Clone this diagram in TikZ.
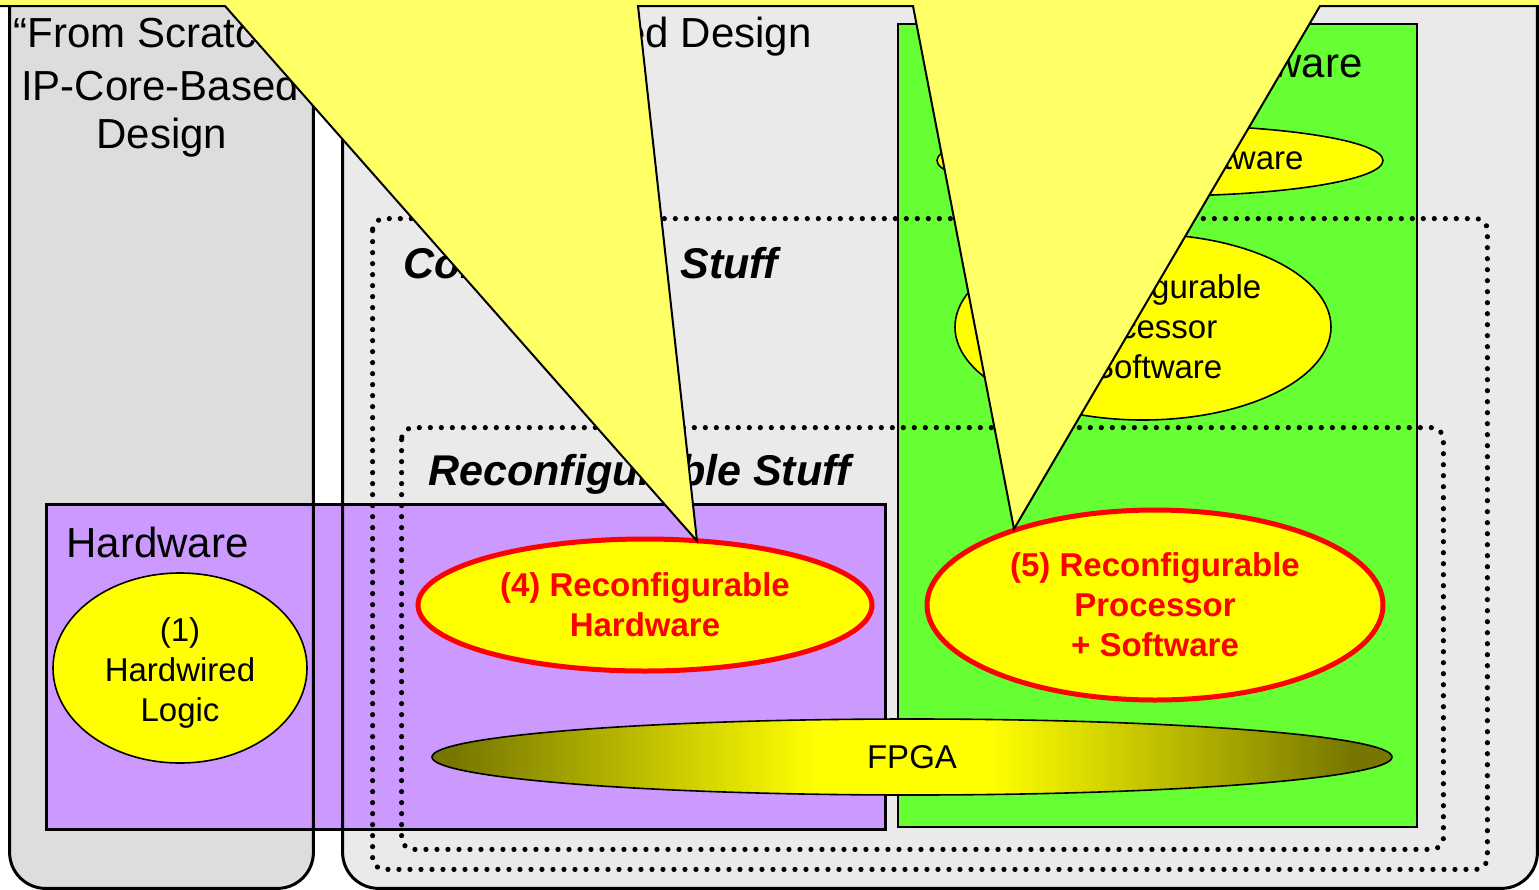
\documentclass[tikz,border=0pt]{standalone}
\usepackage{fontspec}
\setmainfont{Liberation Sans}
\usetikzlibrary{shapes.geometric,decorations.markings}
\definecolor{lgray}{HTML}{DDDDDD}
\definecolor{rgray}{HTML}{EAEAEA}
\definecolor{hwpurple}{HTML}{CC99FF}
\definecolor{swgreen}{HTML}{66FF33}
\definecolor{ylw}{HTML}{FFFF00}
\definecolor{cyel}{HTML}{FFFF66}
\definecolor{olv}{HTML}{767600}
\definecolor{rd}{HTML}{FF0000}
\pgfdeclarehorizontalshading{fpgashade}{100bp}{color(0bp)=(olv); color(26bp)=(olv); color(45bp)=(ylw); color(54bp)=(ylw); color(73bp)=(olv); color(100bp)=(olv)}
\begin{document}
\begin{tikzpicture}[x=0.5pt,y=-0.5pt,
  bigfont/.style={font=\fontsize{21}{25}\selectfont},
  stufffont/.style={font=\fontsize{21.5}{25}\selectfont\bfseries\itshape},
  colbox/.style={rectangle, rounded corners=18pt, inner sep=0pt},
  areabox/.style={rectangle, draw, line width=0.9pt, inner sep=0pt},
  groupbox/.style={rectangle, inner sep=0pt},
  dotline/.style={rounded corners=6pt, postaction={decorate, decoration={markings,
      mark=between positions 0 and 1 step 5.5pt with {\fill[black] (0,0) circle (1.3pt);}}}},
  ell/.style={ellipse, draw, fill=ylw, inner sep=0pt, line width=0.8pt, align=center, font=\fontsize{16.5}{20}\selectfont},
  redell/.style={ell, draw=rd, line width=2.5pt, text=rd, font=\fontsize{16.5}{20}\selectfont\bfseries},
  plaintext/.style={align=center, inner sep=0pt, font=\fontsize{16.5}{20}\selectfont},
]
\useasboundingbox (0,0) rectangle (1539,890);
\fill[white] (0,0) rectangle (1539,890);

% column boxes (fills)
\node[colbox, fill=lgray, minimum width=151.5pt, minimum height=464pt] (leftcol) at (161.5,424) {};
\node[colbox, fill=rgray, minimum width=597pt, minimum height=464pt] (rightcol) at (940,424) {};

% hardware / software areas
\node[areabox, fill=hwpurple, minimum width=419pt, minimum height=162pt] (hwbox) at (466,667) {};
\node[areabox, fill=swgreen, minimum width=259.5pt, minimum height=401.5pt] (swbox) at (1157.5,425.5) {};
\draw[areabox] (hwbox.south west) rectangle (hwbox.north east);

% column borders (on top of the purple area)
\draw[line width=1.5pt, rounded corners=18pt] (leftcol.south west) rectangle (leftcol.north east);
\draw[line width=1.5pt, rounded corners=18pt] (rightcol.south west) rectangle (rightcol.north east);

% dotted groups
\node[groupbox, minimum width=557pt, minimum height=325pt] (cfg) at (930,544) {};
\node[groupbox, minimum width=520.5pt, minimum height=210.5pt] (rcfg) at (922.5,638.5) {};
\path[dotline] (cfg.north west) rectangle (cfg.south east);
\path[dotline] (rcfg.north west) rectangle (rcfg.south east);

% titles
\node[bigfont, anchor=base west, inner sep=0pt] (t1a) at (13,47) {“From Scratch”};
\node[bigfont, anchor=base, inner sep=0pt] (t1b) at (160,100) {IP-Core-Based};
\node[bigfont, anchor=base, inner sep=0pt] (t1c) at (162,148) {Design};
\node[bigfont, anchor=base east, inner sep=0pt] (t2) at (812,47) {Platform-Based Design};
\node[bigfont, anchor=base east, inner sep=0pt] (t3) at (1363,77) {Processor + Software};
\node[bigfont, anchor=base west, inner sep=0pt] (t4) at (66,557) {Hardware};
\node[stufffont, anchor=base west, inner sep=0pt] (t5) at (403,278) {Configurable Stuff};
\node[stufffont, anchor=base west, inner sep=0pt] (t6) at (428,485) {Reconfigurable Stuff};

% ellipses
\node[ell, minimum width=127pt, minimum height=95pt] (e1) at (180,668) {};
\node[plaintext] (e1text) at (180,673) {(1)\\Hardwired\\Logic};
\node[ell, minimum width=223pt, minimum height=35.5pt] (e2) at (1160,160.5) {(2) CPU + Software};
\node[ell, minimum width=188pt, minimum height=93pt] (e3) at (1143,327) {(3) Configurable\\Processor\\+ Software};
\node[redell, minimum width=227pt, minimum height=66pt] (e4) at (645,605) {(4) Reconfigurable\\Hardware};
\node[redell, minimum width=228pt, minimum height=95pt] (e5) at (1155,605) {(5) Reconfigurable\\Processor\\+ Software};
\node[ell, shade, shading=fpgashade, minimum width=480pt, minimum height=38pt] (fpga) at (912,757) {FPGA};

% callout pointers
\coordinate (tip4) at (697,541);
\coordinate (tip5) at (1014,529);
\coordinate (c0) at (-10,6);
\coordinate (c1) at (225,6);
\coordinate (c2) at (638,6);
\coordinate (c3) at (913,6);
\coordinate (c4) at (1320,6);
\coordinate (c5) at (1549,6);
\fill[cyel] (-10,-20) -- (1549,-20) -- (c5) -- (c4) -- (tip5) -- (c3) -- (c2) -- (tip4) -- (c1) -- (c0) -- cycle;
\draw[line width=1pt, line join=miter] (c0) -- (c1) -- (tip4) -- (c2) -- (c3) -- (tip5) -- (c4) -- (c5);
\end{tikzpicture}
\end{document}
